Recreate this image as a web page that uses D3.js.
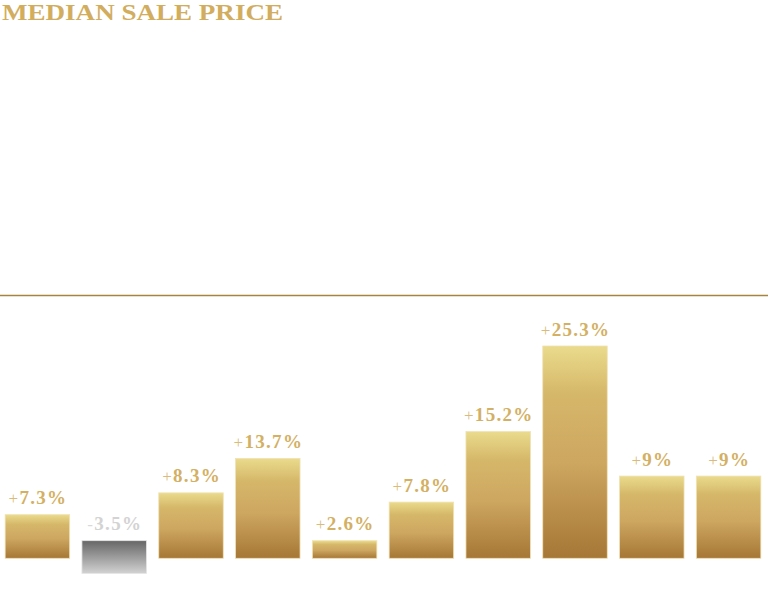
<!DOCTYPE html>
<html>
<head>
<meta charset="utf-8">
<script src="https://cdn.jsdelivr.net/npm/d3@7"></script>
<style>
  html, body { margin: 0; padding: 0; background: #fff; }
  svg { display: block; }
</style>
</head>
<body>
<div id="chart"></div>
<script>
// labels printed above each bar (percent change)
const changeLabels = ["+7.3%", "-3.5%", "+8.3%", "+13.7%", "+2.6%", "+7.8%", "+15.2%", "+25.3%", "+9%", "+9%"];
// bar extents (chart units)
const barLow  = [0, -1.8, 0, 0, 0, 0, 0, 0, 0, 0];
const barHigh = [5.2, 2.1, 7.8, 11.9, 2.1, 6.7, 15.1, 25.3, 9.8, 9.8];
const negative = [false, true, false, false, false, false, false, false, false, false];

const width = 768, height = 597;

const svg = d3.select("#chart")
  .append("svg")
  .attr("width", width)
  .attr("height", height);

const defs = svg.append("defs");

const gold = defs.append("linearGradient")
  .attr("id", "gold")
  .attr("x1", 0).attr("y1", 0).attr("x2", 0).attr("y2", 1);
gold.append("stop").attr("offset", "0%").attr("stop-color", "#eadb8c");
gold.append("stop").attr("offset", "22%").attr("stop-color", "#d6b86a");
gold.append("stop").attr("offset", "55%").attr("stop-color", "#cda660");
gold.append("stop").attr("offset", "100%").attr("stop-color", "#a67736");

const grey = defs.append("linearGradient")
  .attr("id", "grey")
  .attr("x1", 0).attr("y1", 0).attr("x2", 0).attr("y2", 1);
grey.append("stop").attr("offset", "0%").attr("stop-color", "#666666");
grey.append("stop").attr("offset", "100%").attr("stop-color", "#d2d2d2");

// title
svg.append("text")
  .attr("x", 2)
  .attr("y", 19.5)
  .attr("font-family", "'Liberation Serif', 'DejaVu Serif', serif")
  .attr("font-weight", "bold")
  .attr("font-size", 24)
  .attr("textLength", 281)
  .attr("lengthAdjust", "spacingAndGlyphs")
  .attr("fill", "#d2ad5e")
  .text("MEDIAN SALE PRICE");

// divider line
svg.append("line")
  .attr("x1", 0).attr("x2", width)
  .attr("y1", 295.5).attr("y2", 295.5)
  .attr("stroke", "#a8823f")
  .attr("stroke-width", 1.5);

// scales
const x = d3.scaleBand()
  .domain(d3.range(changeLabels.length))
  .range([-1, 767])
  .paddingInner(0.16)
  .paddingOuter(0.08);

const y = d3.scaleLinear()
  .domain([0, 25.3])
  .range([558.3, 346]);

const bars = svg.append("g");

bars.selectAll("rect")
  .data(d3.range(changeLabels.length))
  .join("rect")
  .attr("x", i => x(i))
  .attr("width", x.bandwidth())
  .attr("y", i => y(barHigh[i]))
  .attr("height", i => y(barLow[i]) - y(barHigh[i]))
  .attr("fill", i => negative[i] ? "url(#grey)" : "url(#gold)")
  .attr("stroke", i => negative[i] ? "#e4e4e4" : "#f1e2b6")
  .attr("stroke-width", 0.8);

const labels = svg.append("g")
  .attr("font-family", "'Liberation Serif', 'DejaVu Serif', serif")
  .attr("font-weight", "bold")
  .attr("font-size", 19)
  .attr("letter-spacing", 1.3)
  .attr("text-anchor", "middle");

labels.selectAll("text")
  .data(d3.range(changeLabels.length))
  .join("text")
  .attr("x", i => x(i) + x.bandwidth() / 2 + 0.6)
  .attr("y", i => y(barHigh[i]) - 10.5)
  .attr("fill", i => negative[i] ? "#d3d3d3" : "#d3b063")
  .each(function(i) {
    const t = d3.select(this);
    const s = changeLabels[i];
    // sign drawn lighter and thinner
    t.append("tspan")
      .attr("font-weight", "normal")
      .attr("font-size", 17)
      .attr("fill-opacity", 0.85)
      .text(s[0]);
    t.append("tspan").text(s.slice(1));
  });
</script>
</body>
</html>
